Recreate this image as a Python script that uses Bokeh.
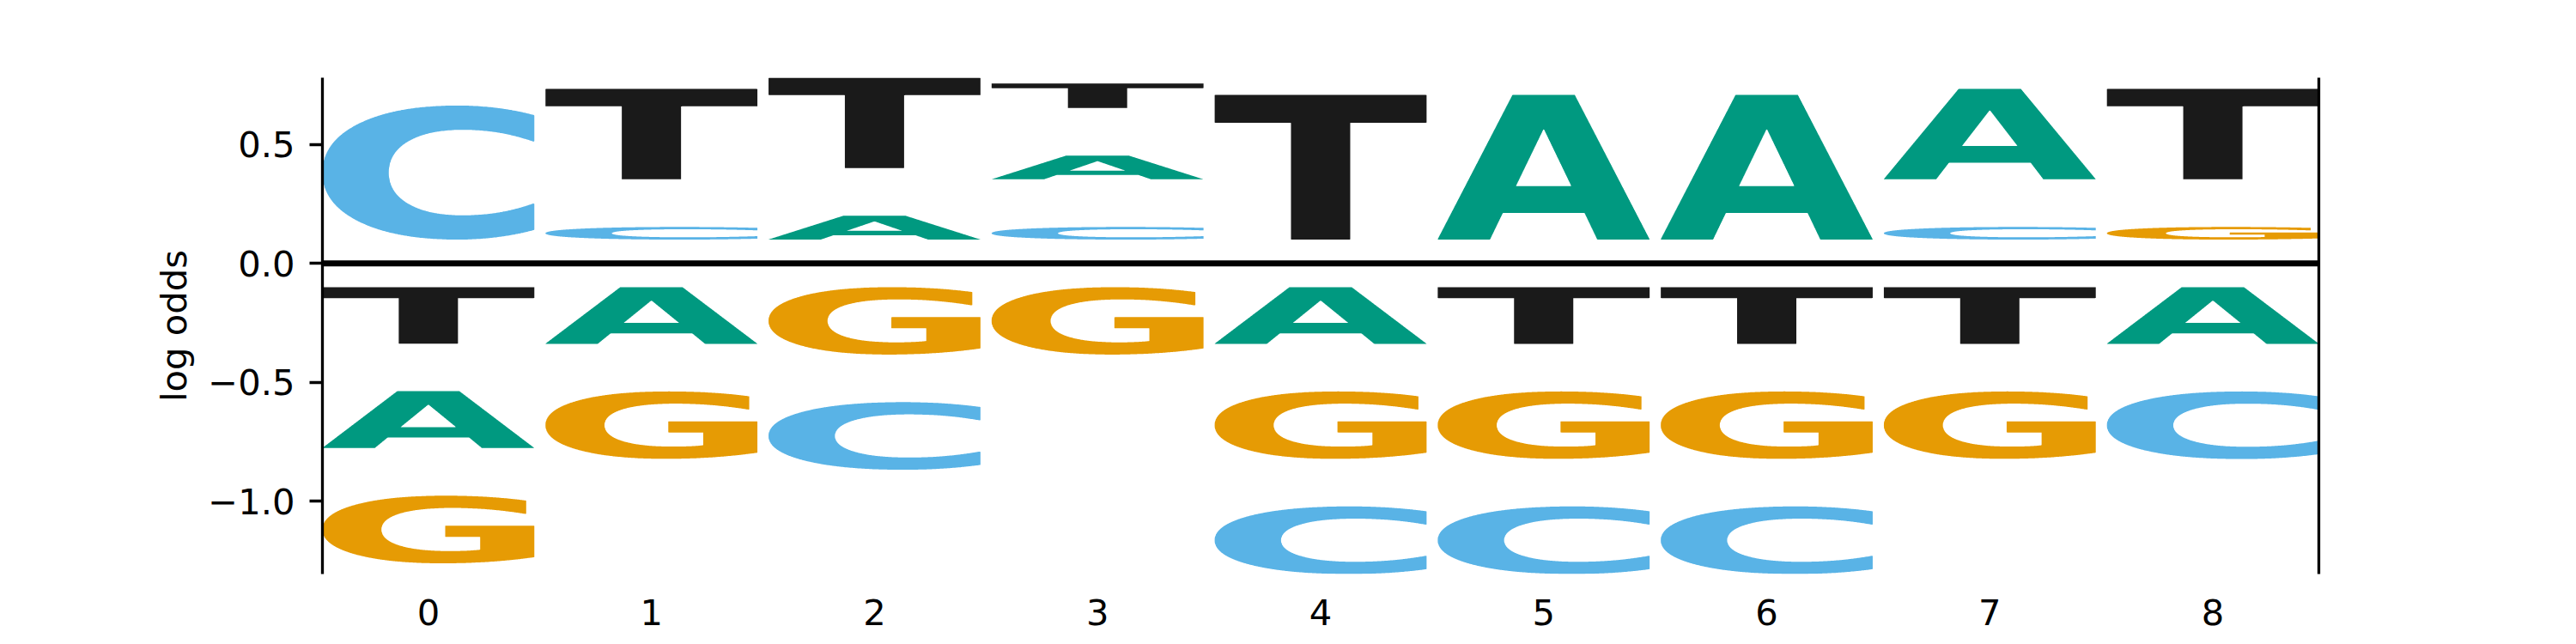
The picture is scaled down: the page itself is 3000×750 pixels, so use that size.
import numpy as np
import contourpy
from PIL import Image, ImageDraw, ImageFont

from bokeh.embed import file_html
from bokeh.resources import INLINE
from bokeh.models import Range1d, FixedTicker, LinearAxis, Span
from bokeh.plotting import figure

# log-odds matrix, one list per letter, one value per position
positions = [0, 1, 2, 3, 4, 5, 6, 7, 8]
letters = ["A", "C", "G", "T"]
log_odds_A = [-0.239, -0.238, 0.100, 0.100, -0.238, 0.608, 0.608, 0.380, -0.238]
log_odds_C = [0.563, 0.053, -0.284, 0.053, -0.284, -0.284, -0.284, 0.053, -0.284]
log_odds_G = [-0.284, -0.283, -0.283, -0.283, -0.283, -0.283, -0.283, -0.283, 0.053]
log_odds_T = [-0.237, 0.380, 0.380, 0.103, 0.608, -0.238, -0.238, -0.238, 0.380]

y_ticks = [-1.0, -0.5, 0.0, 0.5]
y_tick_labels = ["\u22121.0", "\u22120.5", "0.0", "0.5"]

colors = {"A": "#009980", "C": "#59B3E6", "G": "#E69B04", "T": "#1A1A1A"}
VSEP = 0.2
WIDTH = 0.95
FONT = "DejaVu Sans"
FS = "41.7px"


def letter_outline(ch, size=320):
    """Trace the outline of a bold letter into rings scaled to the unit box."""
    font = ImageFont.truetype("DejaVuSans-Bold.ttf", size)
    l, t, r, b = font.getbbox(ch)
    pad = 4
    img = Image.new("L", (r - l + 2 * pad, b - t + 2 * pad), 0)
    ImageDraw.Draw(img).text((pad - l, pad - t), ch, fill=255, font=font)
    z = np.asarray(img, dtype=float) / 255.0
    gen = contourpy.contour_generator(z=z, fill_type="OuterOffset")
    points, offsets = gen.filled(0.5, 2.0)
    allpts = np.vstack(points)
    x0, y0 = allpts.min(axis=0)
    x1, y1 = allpts.max(axis=0)
    polys = []
    for pts, offs in zip(points, offsets):
        rings = []
        for a, e in zip(offs[:-1], offs[1:]):
            ring = pts[a:e]
            u = (ring[:, 0] - x0) / (x1 - x0)
            w = (y1 - ring[:, 1]) / (y1 - y0)
            rings.append((u, w))
        polys.append(rings)
    return polys


outlines = {c: letter_outline(c) for c in letters}

matrix = np.array([log_odds_A, log_odds_C, log_odds_G, log_odds_T]).T

# stack glyphs the way logomaker does: smallest at bottom, vsep between glyphs
xs, ys, fills = [], [], []
floors, ceilings = [], []
for p, vs in zip(positions, matrix):
    order = np.argsort(vs, kind="stable")
    floor = sum((v - VSEP) for v in vs if v < 0) + VSEP / 2
    for i in order:
        v = vs[i]
        ceiling = floor + abs(v)
        c = letters[i]
        gx, gy = [], []
        for rings in outlines[c]:
            gx.append([(p - WIDTH / 2 + WIDTH * u).tolist() for u, w in rings])
            gy.append([(floor + (ceiling - floor) * w).tolist() for u, w in rings])
        xs.append(gx)
        ys.append(gy)
        fills.append(colors[c])
        floors.append(floor)
        ceilings.append(ceiling)
        floor = ceiling + VSEP

p = figure(width=2984, height=742,
           x_range=Range1d(min(positions) - WIDTH / 2, max(positions) + WIDTH / 2),
           y_range=Range1d(min(floors), max(ceilings)),
           min_border_left=375, min_border_right=284,
           min_border_top=90, min_border_bottom=74,
           output_backend="svg", toolbar_location=None)
p.xgrid.visible = False
p.ygrid.visible = False
p.outline_line_color = None

p.multi_polygons(xs=xs, ys=ys, fill_color=fills, line_color=None)
p.add_layout(Span(location=0, dimension="width", line_color="black", line_width=7))

xa = p.xaxis[0]
xa.ticker = FixedTicker(ticks=positions)
xa.axis_line_color = None
xa.major_tick_line_color = None
xa.minor_tick_line_color = None
xa.major_tick_out = 0
xa.major_label_standoff = 29
xa.major_label_text_font = FONT
xa.major_label_text_font_size = FS
xa.major_label_text_color = "black"

ya = p.yaxis[0]
ya.ticker = FixedTicker(ticks=y_ticks)
ya.major_label_overrides = dict(zip(y_ticks, y_tick_labels))
ya.axis_line_color = "black"
ya.axis_line_width = 3.3
ya.major_tick_line_color = "black"
ya.major_tick_line_width = 3.3
ya.major_tick_out = 15
ya.major_tick_in = 0
ya.minor_tick_line_color = None
ya.major_label_standoff = 17
ya.major_label_text_font = FONT
ya.major_label_text_font_size = FS
ya.major_label_text_color = "black"
ya.axis_label = "log odds"
ya.axis_label_text_font = FONT
ya.axis_label_text_font_size = FS
ya.axis_label_text_font_style = "normal"
ya.axis_label_text_color = "black"
ya.axis_label_standoff = 12

right = LinearAxis(ticker=FixedTicker(ticks=[]), axis_line_color="black",
                   axis_line_width=3.3, major_tick_line_color=None,
                   minor_tick_line_color=None, major_label_text_font_size="0px")
p.add_layout(right, "right")

open("out.html", "w").write(file_html(p, INLINE))
